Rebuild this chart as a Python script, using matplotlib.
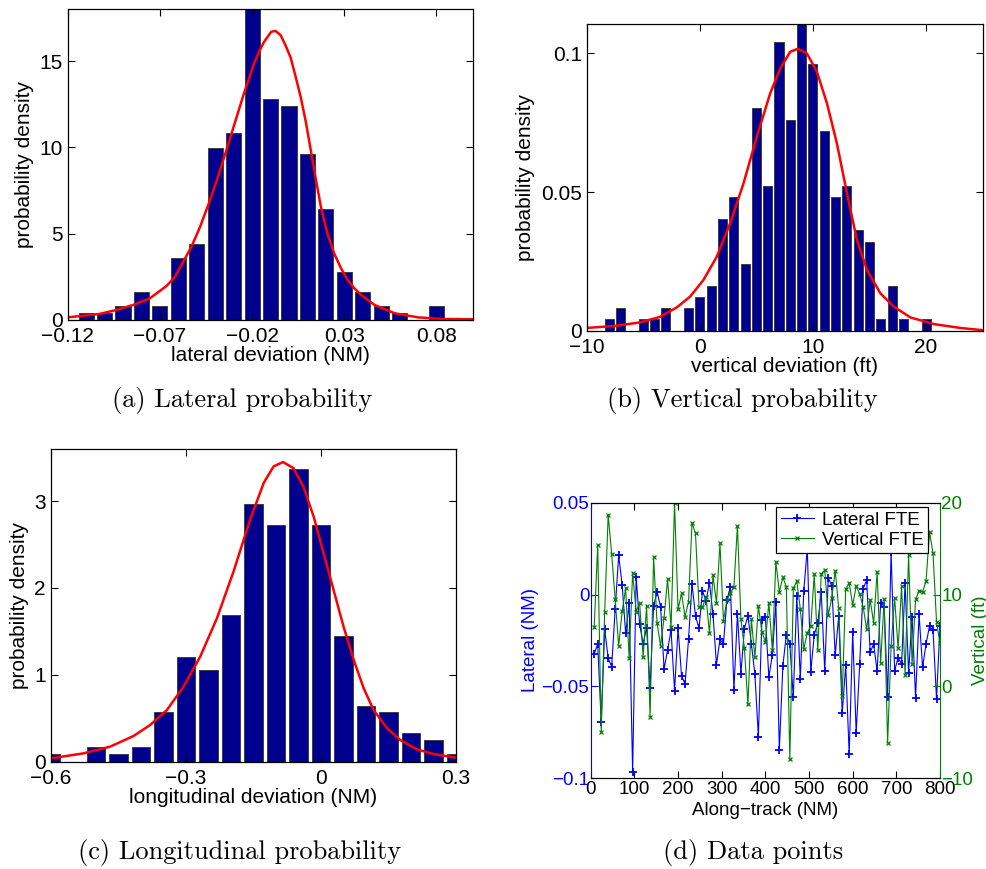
import numpy as np
import matplotlib
matplotlib.use("Agg")
import matplotlib.pyplot as plt

plt.rcParams['font.family'] = ['Liberation Sans', 'DejaVu Sans']

# (a) lateral histogram
lat_bins = [-0.11, -0.10, -0.09, -0.08, -0.07, -0.06, -0.05, -0.04, -0.03, -0.02,
            -0.01, 0.00, 0.01, 0.02, 0.03, 0.04, 0.05, 0.06, 0.07, 0.08]
lat_dens = [0.39, 0.39, 0.83, 1.6, 0.83, 3.61, 4.38, 9.98, 10.81, 19.0,
            12.82, 12.41, 9.61, 6.41, 2.8, 1.6, 0.83, 0.39, 0.0, 0.83]
lat_fit_x = [-0.12, -0.1027, -0.0936, -0.0845, -0.0755, -0.0664, -0.0618, -0.0573, -0.0527,
             -0.0482, -0.0436, -0.0391, -0.0345, -0.03, -0.0245, -0.0191, -0.0164, -0.0136,
             -0.0096, -0.0073, -0.0045, -0.0018, 0.0009, 0.0036, 0.0064, 0.0091, 0.0118,
             0.0145, 0.0173, 0.0209, 0.0245, 0.0282, 0.0318, 0.0355, 0.0391, 0.0464,
             0.0573, 0.07, 0.0827, 0.1]
lat_fit_y = [0.15, 0.35, 0.58, 0.87, 1.25, 1.97, 2.5, 3.38, 4.29,
             5.4, 6.72, 8.1, 9.65, 11.2, 13.1, 14.8, 15.5, 16.1,
             16.7, 16.75, 16.5, 15.9, 15.2, 14.1, 12.9, 11.5, 9.85,
             8.2, 6.56, 5.0, 3.86, 3.0, 2.32, 1.83, 1.45, 0.87,
             0.39, 0.15, 0.06, 0.04]

# (b) vertical histogram
vert_bins = list(range(-8, 21))
vert_dens = [0.0042, 0.0081, 0.0, 0.0042, 0.0042, 0.0081, 0.0, 0.0081, 0.0123, 0.0161,
             0.0403, 0.0481, 0.0240, 0.0802, 0.0523, 0.1042, 0.0760, 0.117, 0.0962, 0.0721,
             0.0481, 0.0523, 0.0363, 0.0321, 0.0042, 0.0161, 0.0042, 0.0, 0.0042]
vert_fit_x = [-10, -7.35, -5.28, -3.51, -2.04, -0.86, 0.32, 1.50, 2.68, 3.86, 5.04, 6.22,
              7.11, 7.99, 8.67, 9.47, 10.35, 11.24, 12.12, 13.01, 13.89, 14.78, 15.96,
              17.14, 18.61, 20.68, 23.04, 25.0]
vert_fit_y = [0.001, 0.0018, 0.0030, 0.0050, 0.0084, 0.0123, 0.0183, 0.0267, 0.0387,
              0.0531, 0.0700, 0.0856, 0.0946, 0.1006, 0.1017, 0.1000, 0.0934, 0.0820,
              0.0675, 0.0495, 0.0327, 0.0219, 0.0135, 0.0087, 0.0048, 0.0024, 0.001, 0.0002]

# (c) longitudinal histogram
lon_bins = [-0.60, -0.55, -0.50, -0.45, -0.40, -0.35, -0.30, -0.25, -0.20, -0.15,
            -0.10, -0.05, 0.00, 0.05, 0.10, 0.15, 0.20, 0.25, 0.30]
lon_dens = [0.085, 0.0, 0.169, 0.085, 0.169, 0.569, 1.206, 1.053, 1.690, 2.966,
            2.724, 3.365, 2.724, 1.444, 0.642, 0.569, 0.327, 0.246, 0.085]
lon_fit_x = [-0.6, -0.527, -0.468, -0.416, -0.379, -0.342, -0.305, -0.268, -0.231,
             -0.194, -0.157, -0.127, -0.105, -0.084, -0.061, -0.039, -0.016, 0.006,
             0.028, 0.050, 0.073, 0.095, 0.117, 0.147, 0.176, 0.213, 0.250, 0.30]
lon_fit_y = [0.038, 0.096, 0.173, 0.296, 0.423, 0.595, 0.864, 1.21, 1.65,
             2.19, 2.79, 3.21, 3.40, 3.45, 3.38, 3.17, 2.82, 2.40,
             1.98, 1.56, 1.17, 0.845, 0.595, 0.384, 0.250, 0.142, 0.088, 0.046]

# (d) raw data points
along_track = np.arange(8, 801, 8)
lateral_fte = [-0.0323, -0.0269, -0.0695, -0.0189, -0.0347, -0.0392, -0.0080, 0.0214, 0.0052, -0.0211,
               -0.0048, -0.0964, 0.0097, -0.0162, -0.0269, -0.0180, -0.0507, -0.0062, 0.0014, -0.0066,
               -0.0405, -0.0303, -0.0193, -0.0523, -0.0184, -0.0441, -0.0488, -0.0244, 0.0058, -0.0117,
               -0.0184, 0.0021, -0.0035, 0.0063, -0.0106, -0.0381, -0.0244, -0.0269, -0.0028, 0.0041,
               -0.0519, -0.0106, -0.0430, -0.0186, -0.0115, -0.0269, -0.0434, -0.0773, -0.0137, -0.0120,
               -0.0449, -0.0329, -0.0042, -0.0846, -0.0390, -0.0218, -0.0271, -0.0559, -0.0008, -0.0459,
               0.0021, 0.0251, -0.0421, -0.0218, -0.0157, 0.0014, -0.0418, 0.0092, 0.0048, -0.0329,
               -0.0117, -0.0646, -0.0385, -0.0870, -0.0202, -0.0753, -0.0380, 0.0032, 0.0079, -0.0314,
               -0.0269, -0.0418, -0.0044, -0.0066, -0.0556, 0.0233, -0.0414, -0.0343, -0.0378, 0.0061,
               -0.0427, -0.0120, -0.0563, -0.0106, -0.0396, -0.0269, -0.0171, -0.0195, -0.0568, -0.0169]
vertical_fte = [6.49, 15.42, -4.97, 8.09, 18.68, 14.40, 9.47, 4.43, 8.16, 10.67,
                3.12, 12.37, 8.13, 9.11, 3.23, 8.74, -3.30, 14.04, 6.86, 4.43,
                7.47, 11.72, 6.42, 19.92, 8.38, 10.12, 7.58, 9.22, 17.81, 16.65,
                8.67, 8.60, 9.76, 5.77, 12.08, 9.11, 15.56, 7.15, 9.40, 10.19,
                10.85, 17.49, 7.33, 4.17, -1.96, 7.29, 3.16, 8.74, 5.95, 4.86,
                9.11, 3.95, 13.53, 10.30, 11.86, 10.85, -7.95, 10.67, 11.46, 8.45,
                4.06, 5.84, 6.57, 12.19, 3.95, 12.26, 12.66, 7.80, 9.58, 12.59,
                8.53, -1.05, 10.56, 11.28, 8.85, 10.92, 10.05, 8.67, 6.20, 9.43,
                6.93, 12.41, 2.58, 9.47, -6.13, 4.43, 9.65, 4.14, 10.92, 1.27,
                14.29, 2.43, 9.47, 10.41, 10.27, 11.46, 16.83, 14.48, 7.04, 4.68]

BAR_COLOR = '#00008F'
TICK_FS = 15


def hist_panel(ax, centers, dens, width, fx, fy):
    ax.bar(centers, dens, width=width, color=BAR_COLOR, edgecolor='#333333', linewidth=0.6)
    ax.plot(fx, fy, color='red', lw=1.8)
    ax.tick_params(direction='in', top=True, right=True, length=5, labelsize=TICK_FS)
    ax.tick_params(axis='x', pad=5)
    for s in ax.spines.values():
        s.set_linewidth(0.9)
    ax.set_ylabel('probability density', fontsize=TICK_FS)


fig = plt.figure(figsize=(9.87, 8.69), dpi=100)

ax_a = fig.add_axes([0.0686, 0.6318, 0.411, 0.3575])
hist_panel(ax_a, lat_bins, lat_dens, 0.0082, lat_fit_x, lat_fit_y)
ax_a.set_xlim(-0.12, 0.1)
ax_a.set_ylim(0, 18)
ax_a.set_xticks([-0.12, -0.07, -0.02, 0.03, 0.08])
ax_a.set_xticklabels(['\u22120.12', '\u22120.07', '\u22120.02', '0.03', '0.08'])
ax_a.set_yticks([0, 5, 10, 15])
ax_a.set_xlabel('lateral deviation (NM)', fontsize=TICK_FS, labelpad=0)

ax_b = fig.add_axes([0.5944, 0.6194, 0.4012, 0.3526])
hist_panel(ax_b, vert_bins, vert_dens, 0.8, vert_fit_x, vert_fit_y)
ax_b.set_xlim(-10, 25)
ax_b.set_ylim(0, 0.1105)
ax_b.set_xticks([-10, 0, 10, 20])
ax_b.set_xticklabels(['\u221210', '0', '10', '20'])
ax_b.set_yticks([0, 0.05, 0.1])
ax_b.set_yticklabels(['0', '0.05', '0.1'])
ax_b.set_xlabel('vertical deviation (ft)', fontsize=TICK_FS, labelpad=0)

ax_c = fig.add_axes([0.0514, 0.1235, 0.4106, 0.3598])
hist_panel(ax_c, lon_bins, lon_dens, 0.041, lon_fit_x, lon_fit_y)
ax_c.set_xlim(-0.6, 0.3)
ax_c.set_ylim(0, 3.6)
ax_c.set_xticks([-0.6, -0.3, 0, 0.3])
ax_c.set_xticklabels(['\u22120.6', '\u22120.3', '0', '0.3'])
ax_c.set_yticks([0, 1, 2, 3])
ax_c.set_xlabel('longitudinal deviation (NM)', fontsize=TICK_FS, labelpad=0)

# (d) two y axes
D_FS = 13.5
ax_d = fig.add_axes([0.5985, 0.1044, 0.3539, 0.3171])
ax_d2 = ax_d.twinx()
l1, = ax_d.plot(along_track, lateral_fte, color='#0000FF', lw=0.8, marker='+', ms=6, mew=1.3,
                label='Lateral FTE')
l2, = ax_d2.plot(along_track, vertical_fte, color='#008000', lw=0.8, marker='x', ms=3, mew=0.9,
                 label='Vertical FTE')
ax_d.set_xlim(0, 800)
ax_d.set_ylim(-0.1, 0.05)
ax_d2.set_ylim(-10, 20)
ax_d.set_xticks(range(0, 801, 100))
ax_d.set_yticks([-0.1, -0.05, 0, 0.05])
ax_d.set_yticklabels(['\u22120.1', '\u22120.05', '0', '0.05'])
ax_d2.set_yticks([-10, 0, 10, 20])
ax_d2.set_yticklabels(['\u221210', '0', '10', '20'])
ax_d.tick_params(axis='x', direction='in', top=True, length=5, labelsize=D_FS, pad=2)
ax_d.tick_params(axis='y', direction='in', length=5, labelsize=D_FS, colors='#0000FF', pad=1)
ax_d2.tick_params(axis='y', direction='in', length=5, labelsize=D_FS, colors='#008000', pad=1)
ax_d.spines['left'].set_color('#0000FF')
ax_d2.spines['left'].set_visible(False)
ax_d2.spines['right'].set_color('#008000')
ax_d.spines['right'].set_visible(False)
ax_d.set_xlabel('Along\u2212track (NM)', fontsize=D_FS, labelpad=3)
ax_d.set_ylabel('Lateral (NM)', fontsize=D_FS, color='#0000FF', labelpad=2)
ax_d2.set_ylabel('Vertical (ft)', fontsize=D_FS, color='#008000', labelpad=-1)
leg = ax_d2.legend([l1, l2], ['Lateral FTE', 'Vertical FTE'], loc='upper left',
                   bbox_to_anchor=(0.53, 0.985), fontsize=D_FS, fancybox=False,
                   edgecolor='black', framealpha=1, handlelength=1.8, borderpad=0.25,
                   labelspacing=0.15, handletextpad=0.4, borderaxespad=0)
leg.get_frame().set_linewidth(0.9)

# sub-captions
cap = dict(fontfamily='cmr10', fontsize=19, ha='center', va='center')
fig.text(242 / 987, 1 - 401 / 869, '(a) Lateral probability', **cap)
fig.text(742 / 987, 1 - 401 / 869, '(b) Vertical probability', **cap)
fig.text(240 / 987, 1 - 852 / 869, '(c) Longitudinal probability', **cap)
fig.text(753 / 987, 1 - 852 / 869, '(d) Data points', **cap)

fig.savefig('out.png', dpi=100)
